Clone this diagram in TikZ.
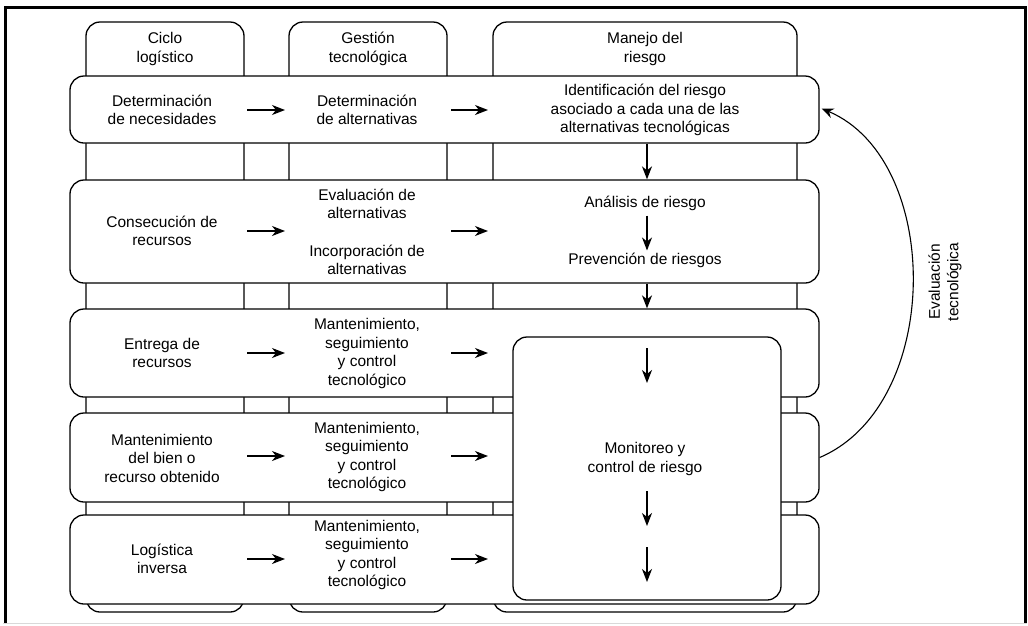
\documentclass[tikz,border=0pt]{standalone}
\usepackage{fontspec}
\setmainfont{Liberation Sans}
\usetikzlibrary{arrows.meta,calc}
\begin{document}
\begin{tikzpicture}[x=1pt,y=-1pt,
  box/.style={draw=black, line width=1.3pt, fill=white, rounded corners=14pt, inner sep=0pt},
  txt/.style={align=center, font=\fontsize{15.5pt}{18.5pt}\selectfont, inner sep=0pt},
  arr/.style={line width=1.4pt, -{Stealth[length=13pt,width=10pt,inset=4pt]}},
  carr/.style={line width=1.1pt, -{Stealth[length=12pt,width=10pt,inset=4pt]}},
]
\useasboundingbox (0,0) rectangle (1028,625);
% frame
\draw[line width=3pt] (5,623) -- (5,7) -- (1025,7) -- (1025,623);
\draw[black!15, line width=1pt] (3,623.5) -- (1027,623.5);
% columns
\node[box, minimum width=158pt, minimum height=590pt] (col1) at (165,317) {};
\node[box, minimum width=158pt, minimum height=590pt] (col2) at (368,317) {};
\node[box, minimum width=304pt, minimum height=590pt] (col3) at (645,317) {};
\node[txt] (h1) at (165,49) {Ciclo\\logístico};
\node[txt] (h2) at (368,49) {Gestión\\tecnológica};
\node[txt] (h3) at (645,49) {Manejo del\\riesgo};
% rows
\node[box, minimum width=749pt, minimum height=67pt] (r1) at (444.5,109.5) {};
\node[box, minimum width=749pt, minimum height=103pt] (r2) at (444.5,231.5) {};
\node[box, minimum width=749pt, minimum height=88pt] (r3) at (444.5,353) {};
\node[box, minimum width=749pt, minimum height=89pt] (r4) at (444.5,457.5) {};
\node[box, minimum width=749pt, minimum height=89pt] (r5) at (444.5,559.5) {};
% monitoring box
\node[box, minimum width=268pt, minimum height=263pt] (mon) at (647,468.5) {};
% texts
\node[txt] (a1) at (162,110) {Determinación\\de necesidades};
\node[txt] (b1) at (367,110) {Determinación\\de alternativas};
\node[txt] (c1) at (645,110) {Identificación del riesgo\\asociado a cada una de las\\alternativas tecnológicas};
\node[txt] (a2) at (162,231) {Consecución de\\recursos};
\node[txt] (b2a) at (367,204) {Evaluación de\\alternativas};
\node[txt] (b2b) at (367,260) {Incorporación de\\alternativas};
\node[txt] (c2a) at (645,203) {Análisis de riesgo};
\node[txt] (c2b) at (645,260) {Prevención de riesgos};
\node[txt] (a3) at (162,353) {Entrega de\\recursos};
\node[txt] (b3) at (367,353.5) {Mantenimiento,\\seguimiento\\y control\\tecnológico};
\node[txt] (a4) at (162,458) {Mantenimiento\\del bien o\\recurso obtenido};
\node[txt] (b4) at (367,457) {Mantenimiento,\\seguimiento\\y control\\tecnológico};
\node[txt] (a5) at (162,559) {Logística\\inversa};
\node[txt] (b5) at (367,555) {Mantenimiento,\\seguimiento\\y control\\tecnológico};
\node[txt] (m) at (645,459) {Monitoreo y\\control de riesgo};
\node[txt, rotate=90] (ev) at (945,282) {Evaluación\\tecnológica};
% horizontal arrows
\foreach \n/\y in {1/110,2/231,3/353,4/456,5/559}{
  \coordinate (p\n a) at (247,\y);
  \coordinate (p\n b) at (285,\y);
  \coordinate (q\n a) at (451,\y);
  \coordinate (q\n b) at (488,\y);
  \draw[arr] (p\n a) -- (p\n b);
  \draw[arr] (q\n a) -- (q\n b);
}
% vertical arrows
\draw[arr] (r1.south -| mon.north) -- (r2.north -| mon.north);
\draw[arr] ($(c2a.south -| mon.north)+(0,5)$) -- ($(c2b.north -| mon.north)+(0,-2)$);
\draw[arr] (r2.south -| mon.north) -- (r3.north -| mon.north);
\coordinate (v1a) at (647,348); \coordinate (v1b) at (647,383);
\coordinate (v2a) at (647,491); \coordinate (v2b) at (647,526);
\coordinate (v3a) at (647,547); \coordinate (v3b) at (647,582);
\draw[arr] (v1a) -- (v1b);
\draw[arr] (v2a) -- (v2b);
\draw[arr] (v3a) -- (v3b);
% curved arrow
\draw[carr] (r4.east) .. controls (943,405) and (943,160) .. ($(r1.east)+(2,-1)$);
\end{tikzpicture}
\end{document}
